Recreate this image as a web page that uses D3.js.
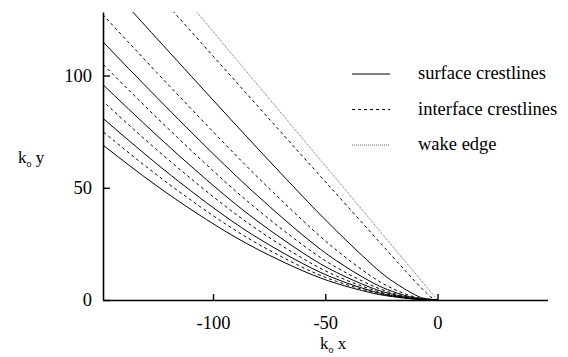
<!DOCTYPE html>
<html>
<head>
<meta charset="utf-8">
<script src="https://cdn.jsdelivr.net/npm/d3@7"></script>
<style>
  body { margin: 0; background: #fff; }
  svg text { font-family: "Liberation Serif", "Times New Roman", serif; fill: #000; }
</style>
</head>
<body>
<div class="svgWrap"></div>
<script>
// tick labels
var xTicks = [-100, -50, 0];
var yTicks = [0, 50, 100];

// surface crestlines (solid), [k0 x, k0 y]
var s1 = [[0,0],[-10,0.37],[-20,1.5],[-30,3.3],[-45,7.4],[-60,13],[-80,22.5],[-100,34],[-125,50.8],[-150,69.8]];
var s2 = [[0,0],[-10,0.48],[-20,1.9],[-30,4.2],[-45,9.3],[-60,16.2],[-80,27.6],[-100,41.2],[-125,60.6],[-150,81.8]];
var s3 = [[0,0],[-10,0.65],[-20,2.55],[-30,5.65],[-45,12.3],[-60,21],[-80,35],[-100,51.1],[-125,73.3],[-150,96.9]];
var s4 = [[0,0],[-10,0.97],[-20,3.8],[-30,8.3],[-45,17.5],[-60,28.9],[-80,46.3],[-100,65.2],[-125,90.2],[-150,116]];
var s5 = [[0,0],[-5,0.6],[-10,2.3],[-20,8.35],[-30,16.5],[-45,30.8],[-60,46.1],[-80,67.4],[-100,89.1],[-125,116.5],[-140,133]];

// interface crestlines (dashed)
var i1 = [[0,0],[-10,0.42],[-20,1.7],[-30,3.8],[-45,8.3],[-60,14.5],[-80,25],[-100,37.6],[-125,55.7],[-150,75.8]];
var i2 = [[0,0],[-10,0.55],[-20,2.2],[-30,4.9],[-45,10.7],[-60,18.5],[-80,31.2],[-100,46.1],[-125,66.9],[-150,89.4]];
var i3 = [[0,0],[-10,0.77],[-20,3.1],[-30,6.8],[-45,14.5],[-60,24.5],[-80,40.1],[-100,57.6],[-125,81.2],[-150,106]];
var i4 = [[0,0],[-10,1.33],[-20,5.1],[-30,10.9],[-45,22.2],[-60,35.4],[-80,54.6],[-100,75],[-125,101.3],[-150,128.1]];
var i5 = [[0,0],[-2,0.68],[-5,3.2],[-10,8.3],[-20,19.3],[-40,41.6],[-60,63.9],[-80,86.3],[-100,108.7],[-120,131.1]];

// wake edge (dotted)
var wakeEdge = [[0,0],[-108,129.2]];

var surfaceLines = [s1, s2, s3, s4, s5];
var interfaceLines = [i1, i2, i3, i4, i5];

var width = 568, height = 357;

var x = d3.scaleLinear().domain([-149, 49]).range([103, 547.5]);
var y = d3.scaleLinear().domain([0, 128.3]).range([300, 12]);

var svg = d3.select(".svgWrap")
  .append("svg")
  .attr("width", width)
  .attr("height", height);

svg.append("clipPath")
  .attr("id", "plotClip")
  .append("rect")
  .attr("x", x(-149))
  .attr("y", y(128.3))
  .attr("width", x(49) - x(-149))
  .attr("height", y(0) - y(128.3));

var line = d3.line()
  .x(function(d){ return x(d[0]); })
  .y(function(d){ return y(d[1]); })
  .curve(d3.curveNatural);

var plot = svg.append("g").attr("clip-path", "url(#plotClip)");

plot.selectAll(".surf")
  .data(surfaceLines)
  .enter()
  .append("path")
  .attr("class", "surf")
  .attr("d", line)
  .attr("fill", "none")
  .attr("stroke", "#000")
  .attr("stroke-width", 1);

plot.selectAll(".intf")
  .data(interfaceLines)
  .enter()
  .append("path")
  .attr("class", "intf")
  .attr("d", line)
  .attr("fill", "none")
  .attr("stroke", "#000")
  .attr("stroke-width", 1)
  .attr("stroke-dasharray", "3,3");

plot.append("path")
  .datum(wakeEdge)
  .attr("d", line)
  .attr("fill", "none")
  .attr("stroke", "#666")
  .attr("stroke-width", 1)
  .attr("stroke-dasharray", "1,1");

//X Axis
svg.append("g")
  .attr("transform", "translate(0," + y(0) + ")")
  .call(d3.axisBottom(x)
    .tickValues(xTicks)
    .tickSizeInner(-6)
    .tickSizeOuter(0)
    .tickPadding(16)
    .tickFormat(function(d){ return String(d); }));

//Y Axis
svg.append("g")
  .attr("transform", "translate(" + x(-149) + ",0)")
  .call(d3.axisLeft(y)
    .tickValues(yTicks)
    .tickSizeInner(-7)
    .tickSizeOuter(0)
    .tickPadding(11)
    .tickFormat(function(d){ return String(d); }));

svg.selectAll(".domain").attr("stroke", "#000").attr("stroke-width", 1.6);
svg.selectAll(".tick line").attr("stroke", "#000").attr("stroke-width", 1.4);
svg.selectAll(".tick text")
  .style("font-family", "'Liberation Serif', 'Times New Roman', serif")
  .style("font-size", "18.5px");

// axis titles
var xTitle = svg.append("text")
  .attr("x", 320)
  .attr("y", 349)
  .style("font-size", "17px");
xTitle.append("tspan").text("k");
xTitle.append("tspan").attr("dy", 4).style("font-size", "10px").text("o");
xTitle.append("tspan").attr("dy", -4).text(" x");

var yTitle = svg.append("text")
  .attr("x", 18)
  .attr("y", 163)
  .style("font-size", "17px");
yTitle.append("tspan").text("k");
yTitle.append("tspan").attr("dy", 4).style("font-size", "10px").text("o");
yTitle.append("tspan").attr("dy", -4).text(" y");

// legend
var legendItems = ["surface crestlines", "interface crestlines", "wake edge"];
var legendDash = [null, "3,3", "1,1"];
var legendColor = ["#000", "#000", "#666"];

var legend = svg.append("g");
legendItems.forEach(function(name, i){
  var ly = 74 + i * 35.5;
  legend.append("line")
    .attr("x1", 352)
    .attr("x2", 390)
    .attr("y1", ly)
    .attr("y2", ly)
    .attr("stroke", legendColor[i])
    .attr("stroke-width", 1)
    .attr("stroke-dasharray", legendDash[i]);
  legend.append("text")
    .attr("x", 418)
    .attr("y", ly + 5)
    .style("font-size", "18.5px")
    .text(name);
});
</script>
</body>
</html>
